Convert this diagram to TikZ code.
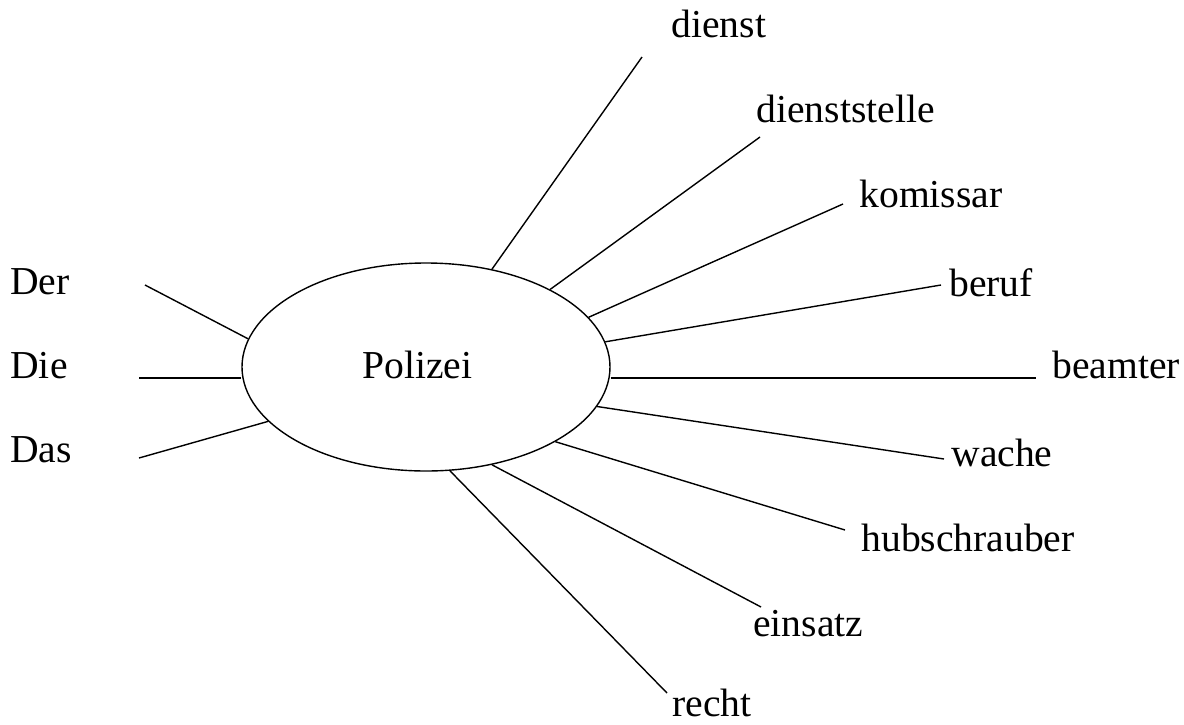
\documentclass[tikz,border=0pt]{standalone}
\usepackage{fontspec}
\setmainfont{Liberation Serif}
\usetikzlibrary{shapes.geometric}

\begin{document}
\begin{tikzpicture}[
    x=0.5pt, y=-0.5pt,
    word/.style = {
        anchor=base west,
        inner sep=0pt,
        font=\fontsize{19.8}{24}\selectfont
      },
    centre/.style = {
        ellipse,
        draw=black,
        line width=0.7pt,
        minimum width=184pt,
        minimum height=104pt,
        inner sep=0pt
      },
    spoke/.style = {
        line width=0.7pt
      },
    ]
    \useasboundingbox (0,0) rectangle (1184,724);

    \node (polizei) [centre] at (426,367) {};
    \node (polizei label) [word] at (362,378) {Polizei};

    \node (der) [word] at (10,294) {Der};
    \node (die) [word] at (10,378) {Die};
    \node (das) [word] at (10,462) {Das};

    \node (dienst) [word] at (671,37) {dienst};
    \node (dienststelle) [word] at (756,122) {dienststelle};
    \node (komissar) [word] at (859,207) {komissar};
    \node (beruf) [word] at (949,296) {beruf};
    \node (beamter) [word] at (1052,378) {beamter};
    \node (wache) [word] at (951,466) {wache};
    \node (hubschrauber) [word] at (861,551) {hubschrauber};
    \node (einsatz) [word] at (753,636) {einsatz};
    \node (recht) [word] at (672,716) {recht};

    \coordinate (der end) at (145,285);
    \coordinate (die end) at (139,378);
    \coordinate (das end) at (139,458);
    \coordinate (dienst end) at (642,57);
    \coordinate (dienststelle end) at (760,137);
    \coordinate (komissar end) at (843,204);
    \coordinate (beruf end) at (941,285);
    \coordinate (beamter end) at (1036,378);
    \coordinate (wache end) at (944,459);
    \coordinate (hubschrauber end) at (845,530);
    \coordinate (einsatz end) at (761,607);
    \coordinate (recht end) at (667,693);

    \draw [spoke] (der end) -- (polizei.171.4);
    \draw [spoke] (die end) -- (die end -| polizei.west);
    \draw [spoke] (das end) -- (polizei.199.2);
    \draw [spoke] (polizei.56.7) -- (dienst end);
    \draw [spoke] (polizei.32.3) -- (dienststelle end);
    \draw [spoke] (polizei.17.1) -- (komissar end);
    \draw [spoke] (polizei.8.6) -- (beruf end);
    \draw [spoke] (beamter end -| polizei.east) -- (beamter end);
    \draw [spoke] (polizei.-13.7) -- (wache end);
    \draw [spoke] (polizei.-30.4) -- (hubschrauber end);
    \draw [spoke] (polizei.-56.4) -- (einsatz end);
    \draw [spoke] (polizei.-77.4) -- (recht end);
\end{tikzpicture}
\end{document}
